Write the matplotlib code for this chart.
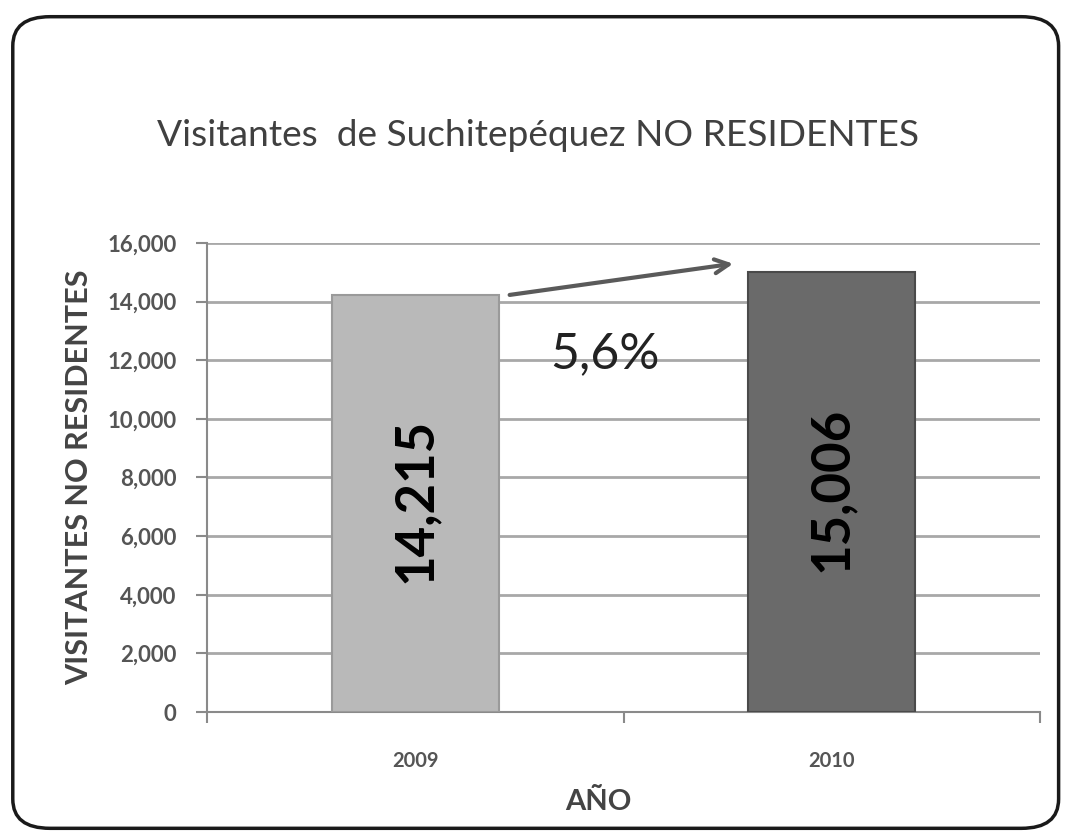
import matplotlib
matplotlib.use("Agg")
import matplotlib.pyplot as plt
from matplotlib.patches import FancyBboxPatch
from matplotlib.ticker import FuncFormatter

plt.rcParams["font.family"] = ["Lato", "DejaVu Sans"]

years = ["2009", "2010"]
visitors = [14215, 15006]
bar_colors = ["#b9b9b9", "#6a6a6a"]
growth_label = "5,6%"
title = "Visitantes  de Suchitepéquez NO RESIDENTES"
y_label = "VISITANTES NO RESIDENTES"
x_label = "AÑO"
y_ticks = list(range(0, 16001, 2000))

fig = plt.figure(figsize=(10.65, 8.35), dpi=100)

# rounded frame round the whole chart, kept behind the axes
frame = FancyBboxPatch((0.012, 0.008), 0.982, 0.972,
                       boxstyle="round,pad=0,rounding_size=0.035",
                       transform=fig.transFigure, facecolor="white",
                       edgecolor="#1a1a1a", linewidth=2.5, zorder=-10)
fig.patches.append(frame)

ax = fig.add_axes([0.1944, 0.1473, 0.7821, 0.5617])
ax.set_facecolor("none")

x = range(len(years))
width = 0.4
bars = ax.bar(x, visitors, width=width, color=bar_colors,
              edgecolor=["#9a9a9a", "#4a4a4a"], linewidth=1.5, zorder=3)

for xi, v in zip(x, visitors):
    ax.text(xi, v / 2 + 100, f"{v:,}", rotation=90, ha="center", va="center",
            fontsize=38, fontweight="bold", color="black", zorder=4)

ax.annotate("", xy=(1 - width / 2 - 0.03, visitors[1] + 300),
            xytext=(width / 2 + 0.02, visitors[0]),
            arrowprops=dict(arrowstyle="->", color="#5a5a5a", lw=3,
                            mutation_scale=25), zorder=5)
ax.text(0.455, 12200, growth_label, ha="center", va="center",
        fontsize=36, color="#222222")

ax.set_xlim(-0.5, 1.5)
ax.set_ylim(0, 16000)
ax.set_yticks(y_ticks)
ax.yaxis.set_major_formatter(FuncFormatter(lambda v, p: f"{int(v):,}"))
ax.yaxis.grid(True, color="#a8a8a8", linewidth=2, zorder=0)
ax.set_axisbelow(True)

ax.set_xticks([-0.5, 0.5, 1.5])
ax.set_xticklabels([])
ax.set_xticks(list(x), minor=True)
ax.set_xticklabels(years, minor=True)
ax.tick_params(axis="x", which="major", length=8, color="#8a8a8a", width=1.5)
ax.tick_params(axis="x", which="minor", length=0, pad=28, labelsize=14.5,
               labelcolor="#555555")
ax.tick_params(axis="y", length=8, color="#8a8a8a", width=1.5, pad=14,
               labelsize=16, labelcolor="#555555")
for lbl in ax.get_yticklabels() + ax.get_xticklabels(minor=True):
    lbl.set_fontweight("bold")

for side in ["top", "right"]:
    ax.spines[side].set_visible(False)
ax.spines["left"].set_color("#8a8a8a")
ax.spines["bottom"].set_color("#8a8a8a")
ax.spines["left"].set_linewidth(1.5)
ax.spines["bottom"].set_linewidth(1.5)

ax.set_xlabel(x_label, fontsize=21, fontweight="bold", color="#444444",
              labelpad=8)
ax.xaxis.set_label_coords(0.47, -0.165)
ax.set_ylabel(y_label, fontsize=22, fontweight="bold", color="#444444",
              labelpad=10)

fig.text(0.505, 0.838, title, ha="center", va="center", fontsize=26.7,
         color="#404040")

fig.savefig("out.png", dpi=100)
